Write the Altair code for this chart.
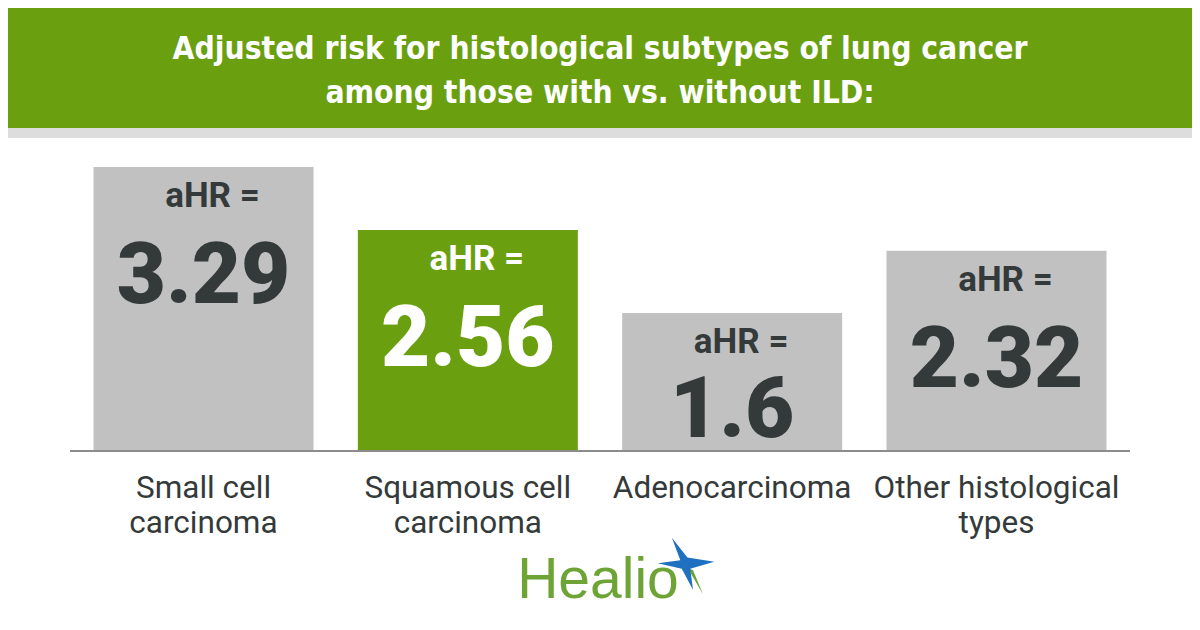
import altair as alt
import pandas as pd

# ---- data ----
categories = ["Small cell carcinoma", "Squamous cell carcinoma", "Adenocarcinoma", "Other histological types"]
label_lines = ["Small cell\ncarcinoma", "Squamous cell\ncarcinoma", "Adenocarcinoma", "Other histological\ntypes"]
values = [3.29, 2.56, 1.6, 2.32]
highlight = "Squamous cell carcinoma"
title_lines = ["Adjusted risk for histological subtypes of lung cancer", "among those with vs. without ILD:"]
brand = "Healio"

df = pd.DataFrame({"cat": categories, "label": label_lines, "value": values})

GREEN = "#6aa010"
GRAY = "#c1c1c1"
DARK = "#343a3a"

W, H = 1060, 313
PX_PER_UNIT = 86.3

xenc = alt.X("cat:N", sort=categories, axis=None,
             scale=alt.Scale(paddingInner=0.1677, paddingOuter=0.0889))
yscale = alt.Scale(domain=[0, H / PX_PER_UNIT], nice=False, zero=True)
yenc = alt.Y("value:Q", axis=None, scale=yscale)

base = alt.Chart(df)

bars = base.mark_bar(cornerRadius=0).encode(
    x=xenc, y=yenc,
    color=alt.condition(f"datum.cat == '{highlight}'", alt.value(GREEN), alt.value(GRAY)),
)

txt_color = alt.condition(f"datum.cat == '{highlight}'", alt.value("white"), alt.value(DARK))

ahr = base.mark_text(font="Roboto", fontWeight="bold", fontSize=35, baseline="alphabetic",
                     align="center", dx=9, dy=40).encode(
    x=xenc, y=yenc, text=alt.value("aHR ="), color=txt_color)

nums = base.transform_calculate(
    ty=f"max(datum.value - 136/{PX_PER_UNIT}, 14/{PX_PER_UNIT})",
    vtxt="'' + datum.value",
).mark_text(font="Roboto", fontWeight=900, fontSize=85, baseline="alphabetic", align="center").encode(
    x=xenc, y=alt.Y("ty:Q", axis=None, scale=yscale), text="vtxt:N", color=txt_color)

cat_labels = base.mark_text(font="Roboto", fontSize=31.5, color=DARK, baseline="alphabetic",
                            align="center", lineBreak="\n", lineHeight=35).encode(
    x=xenc, y=alt.value(360), text="label:N")

baseline_rule = alt.Chart(pd.DataFrame({"z": [0]})).mark_rule(color="#8c8c8c", strokeWidth=2).encode(
    y=alt.Y("z:Q", scale=yscale, axis=None))

one = pd.DataFrame({"t": ["\n".join(title_lines)]})
banner = alt.Chart(one).mark_rect(color=GREEN).encode(
    x=alt.value(-80), x2=alt.value(1140), y=alt.value(-140), y2=alt.value(-10))
strip = alt.Chart(one).mark_rect(color="#dcdddc").encode(
    x=alt.value(-80), x2=alt.value(1140), y=alt.value(-10), y2=alt.value(0))
title = alt.Chart(one).mark_text(font="Liberation Sans Narrow, DejaVu Sans Condensed, sans-serif",
                                 fontWeight="bold", fontSize=31.5, color="white", align="center",
                                 baseline="alphabetic", lineBreak="\n", lineHeight=44).encode(
    x=alt.value(W / 2), y=alt.value(-79), text="t:N")

logo_df = pd.DataFrame({"t": [brand]})
logo = alt.Chart(logo_df).mark_text(font="Liberation Sans", fontSize=57, color="#6ea436",
                                    fontWeight=500, align="center", baseline="alphabetic").encode(
    x=alt.value(528), y=alt.value(460), text="t:N")
star_path = "M-0.5,-1 L0.05,-0.3 L1,-0.15 L0.15,0.1 L0.25,0.85 L-0.15,0.1 L-1,-0.1 L-0.2,-0.2 Z"
star = alt.Chart(logo_df).mark_point(shape=star_path, filled=True, size=3200, color="#1f70c1",
                                     opacity=1, strokeWidth=0).encode(
    x=alt.value(616), y=alt.value(428))
tail_path = "M0.05,0.05 L0.6,1 L0.25,0.15 Z"
tail = alt.Chart(logo_df).mark_point(shape=tail_path, filled=True, size=3200, color="#6ea436",
                                     opacity=1, strokeWidth=0).encode(
    x=alt.value(616), y=alt.value(428))

chart = alt.layer(banner, strip, title, bars, baseline_rule, ahr, nums, cat_labels, logo, tail, star).properties(
    width=W, height=H,
    autosize=alt.AutoSizeParams(type="none"),
    padding={"left": 62, "top": 130, "right": 62, "bottom": 171},
    background="white",
).configure_view(stroke=None)

chart.save("out.html", embed_options={"renderer": "svg", "actions": False})
